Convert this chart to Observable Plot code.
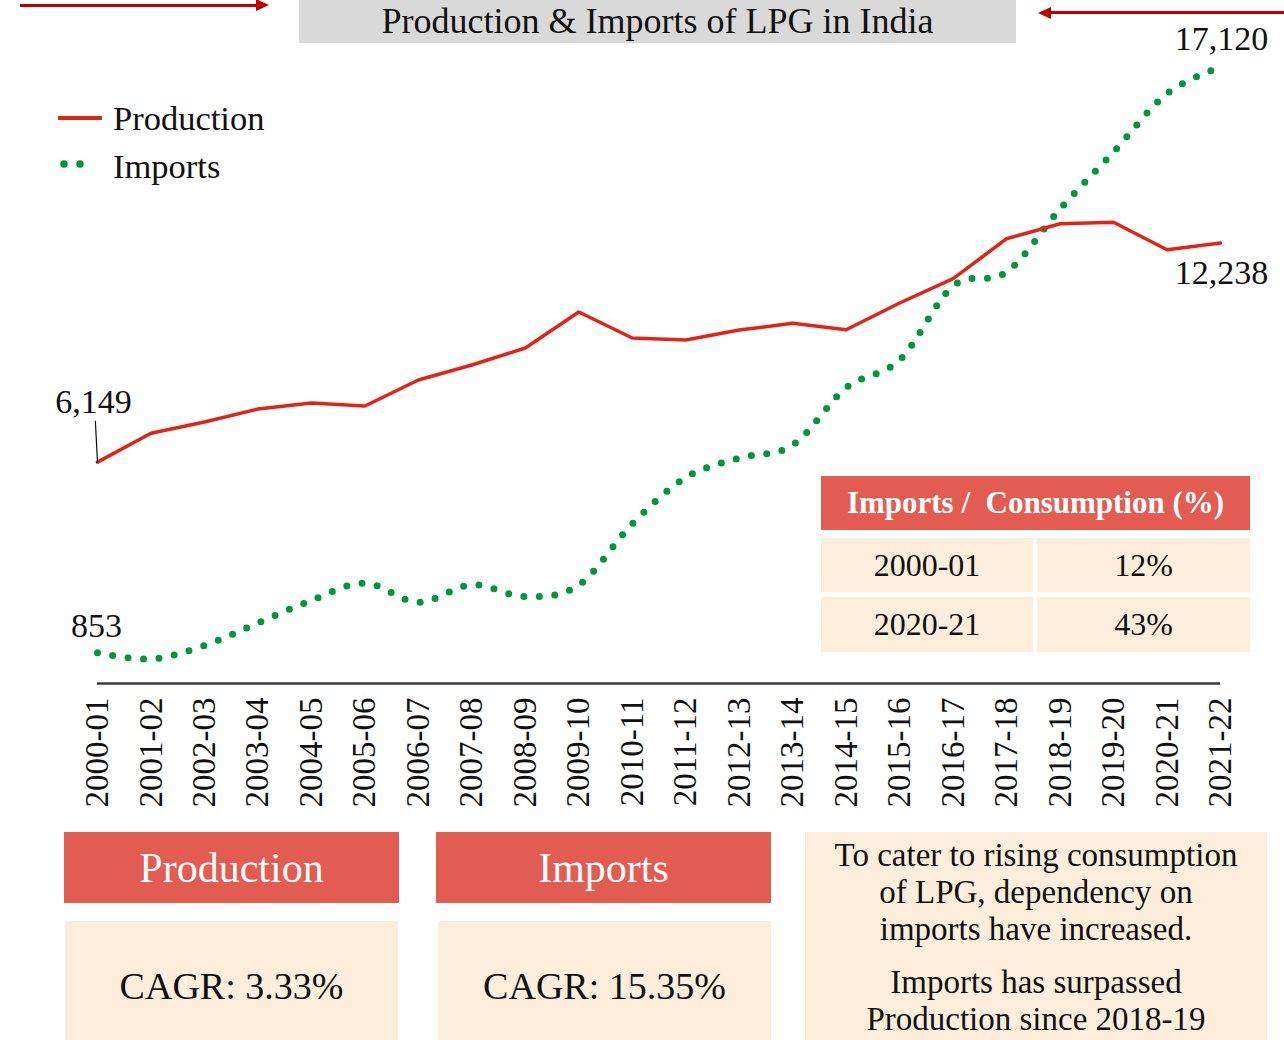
<!DOCTYPE html>
<html>
<head>
<meta charset="utf-8">
<script src="https://cdn.jsdelivr.net/npm/d3@7"></script>
<script src="https://cdn.jsdelivr.net/npm/@observablehq/plot@0.6"></script>
<style>
  html, body { margin: 0; padding: 0; background: #fff; }
  body { width: 1284px; height: 1040px; overflow: hidden; position: relative;
         font-family: "Liberation Serif", "DejaVu Serif", serif; color: #111; }
  #chart { position: absolute; left: 0; top: 0; }
  .abs { position: absolute; }
  .center { display: flex; align-items: center; justify-content: center; text-align: center; }
  .red { background: #e35c51; color: #fff; }
  .beige { background: #fdeddb; color: #111; }
</style>
</head>
<body>
<div id="chart"></div>

<!-- title -->
<div class="abs" style="left:299px; top:-20px; width:717px; height:63px; background:#d9d9d9;"></div>
<div class="abs center" style="left:299px; top:0px; width:717px; height:42px; font-size:36px; line-height:42px; color:#111;">Production &amp; Imports of LPG in India</div>

<!-- arrows -->
<div class="abs" style="left:20px; top:3.5px; width:238px; height:3px; background:#c00000;"></div>
<div class="abs" style="left:256px; top:-1px; width:0; height:0; border-left:13px solid #c00000; border-top:6px solid transparent; border-bottom:6px solid transparent;"></div>
<div class="abs" style="left:1049px; top:11px; width:235px; height:3px; background:#c00000;"></div>
<div class="abs" style="left:1038px; top:6.5px; width:0; height:0; border-right:13px solid #c00000; border-top:6px solid transparent; border-bottom:6px solid transparent;"></div>

<!-- legend -->
<div class="abs" style="left:58px; top:116px; width:44px; height:3.5px; background:#e2231a;"></div>
<div class="abs center" style="left:113px; top:98px; height:40px; font-size:34.5px; justify-content:flex-start;">Production</div>
<svg class="abs" style="left:55px; top:155px;" width="40" height="20"><circle cx="9" cy="9" r="3.8" fill="#009640"/><circle cx="25" cy="9" r="3.8" fill="#009640"/></svg>
<div class="abs center" style="left:113px; top:146px; height:40px; font-size:34.5px; justify-content:flex-start;">Imports</div>

<!-- table -->
<div class="abs center red" style="left:821px; top:476px; width:429px; height:54px; font-size:31px; font-weight:bold; white-space:pre;">Imports /  Consumption (%)</div>
<div class="abs center beige" style="left:821px; top:538px; width:212px; height:54px; font-size:32px;">2000-01</div>
<div class="abs center beige" style="left:1037px; top:538px; width:213px; height:54px; font-size:32px;">12%</div>
<div class="abs center beige" style="left:821px; top:597px; width:212px; height:55px; font-size:32px;">2020-21</div>
<div class="abs center beige" style="left:1037px; top:597px; width:213px; height:55px; font-size:32px;">43%</div>

<!-- bottom boxes -->
<div class="abs center red" style="left:64px; top:832px; width:335px; height:71px; font-size:42px;">Production</div>
<div class="abs center red" style="left:436px; top:832px; width:335px; height:71px; font-size:42px;">Imports</div>
<div class="abs center beige" style="left:65px; top:921px; width:333px; height:130px; font-size:38px;">CAGR: 3.33%</div>
<div class="abs center beige" style="left:438px; top:921px; width:333px; height:130px; font-size:38px;">CAGR: 15.35%</div>
<div class="abs beige" style="left:805px; top:832px; width:462px; height:220px;"></div>
<div class="abs" style="left:805px; top:837px; width:462px; text-align:center; font-size:33px; line-height:37px; color:#111;">
  <div>To cater to rising consumption<br>of LPG, dependency on<br>imports have increased.</div>
  <div style="margin-top:16px;">Imports has surpassed<br>Production since 2018-19</div>
</div>

<script>
// ---- data ----
const years = ["2000-01","2001-02","2002-03","2003-04","2004-05","2005-06","2006-07","2007-08","2008-09","2009-10","2010-11","2011-12","2012-13","2013-14","2014-15","2015-16","2016-17","2017-18","2018-19","2019-20","2020-21","2021-22"];
const production = [6149, 6950, 7264, 7625, 7792, 7708, 8430, 8847, 9319, 10319, 9597, 9542, 9819, 10006, 9828, 10570, 11244, 12355, 12772, 12811, 12050, 12238];
const imports = [853, 680, 1055, 1680, 2308, 2786, 2253, 2742, 2414, 2736, 4436, 5722, 6264, 6625, 8217, 8986, 11042, 11430, 13180, 14764, 16389, 17120];

const idx = years.map((_, i) => i);
const last = idx.length - 1;
const fmt = d3.format(",");

const leader = {
  draw(context, l) { context.moveTo(0, 0); context.lineTo(0, -l); }
};

const chart = Plot.plot({
  width: 1284,
  height: 830,
  marginLeft: 97,
  marginRight: 64,
  marginTop: 35,
  marginBottom: 147,
  x: { type: "linear", domain: [0, last], axis: null },
  y: { type: "linear", domain: [0, 18000], axis: null },
  style: { fontFamily: '"Liberation Serif", "DejaVu Serif", serif', background: "transparent", overflow: "visible", color: "#111" },
  marks: [
    Plot.ruleY([0], { stroke: "#3a3a3a", strokeWidth: 2.5 }),
    Plot.line(idx, { x: i => i, y: i => imports[i], curve: "cardinal", stroke: "#009640", strokeWidth: 7, strokeLinecap: "round", strokeDasharray: "0 15.5" }),
    Plot.line(idx, { x: i => i, y: i => production[i], stroke: "#e2231a", strokeWidth: 3.5 }),
    Plot.text(idx, { x: i => i, y: () => 0, text: i => years[i], rotate: -90, textAnchor: "end", lineAnchor: "middle", dy: 14, fontSize: 33, fill: "#111" }),
    Plot.vector([0], { x: i => i, y: i => production[i], length: 41, rotate: -3, anchor: "start", stroke: "#111", strokeWidth: 1.2, shape: leader }),
    Plot.text([0], { x: i => i, y: i => production[i], text: i => fmt(production[i]), dx: -4, dy: -60, fontSize: 34, fill: "#111" }),
    Plot.text([0], { x: i => i, y: i => imports[i], text: i => fmt(imports[i]), dx: -1, dy: -27, fontSize: 34, fill: "#111" }),
    Plot.text([last], { x: i => i, y: i => imports[i], text: i => fmt(imports[i]), dx: 1, dy: -28, fontSize: 34, fill: "#111" }),
    Plot.text([last], { x: i => i, y: i => production[i], text: i => fmt(production[i]), dx: 1, dy: 30, fontSize: 34, fill: "#111" })
  ]
});
document.getElementById("chart").appendChild(chart);
</script>
</body>
</html>
